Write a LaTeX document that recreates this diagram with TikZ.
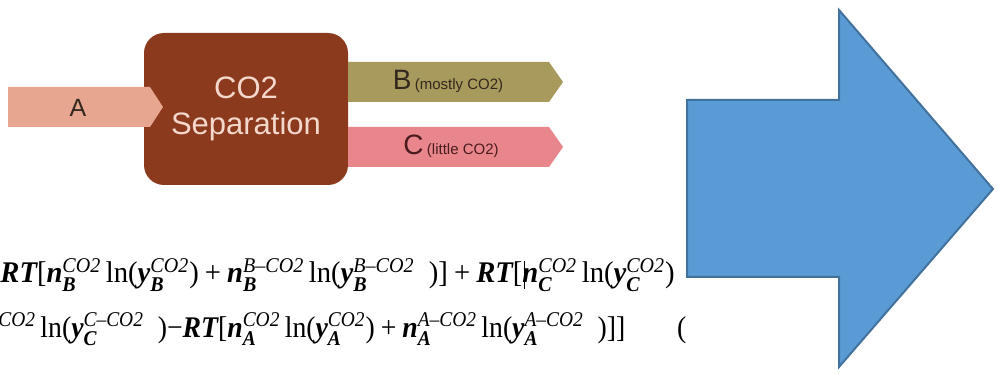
\documentclass[tikz,border=0pt]{standalone}
\usepackage{fontspec}
\usepackage{amsmath}
\usepackage{graphicx}
\setmainfont{Liberation Serif}
\setsansfont{Liberation Sans}
\definecolor{sepbrown}{HTML}{8C3A1E}
\definecolor{septext}{HTML}{F3D8CB}
\definecolor{asalmon}{HTML}{E6A690}
\definecolor{bolive}{HTML}{A8995C}
\definecolor{cpink}{HTML}{E8868C}
\definecolor{labeltext}{HTML}{33281E}
\definecolor{ctext}{HTML}{4A1C1C}
\definecolor{bluefill}{HTML}{5B9BD5}
\definecolor{blueline}{HTML}{41719C}
\newcommand\bv[1]{\text{\bfseries\itshape #1}}
\newcommand\iv[1]{\text{\itshape #1}}
\newcommand\rv[1]{\text{#1}}
\newcommand\pl{\mathbin{\rv{+}}}
\begin{document}
\begin{tikzpicture}[x=0.5pt,y=-0.5pt,
  stream/.style={draw=none},
  lbl/.style={font=\sffamily, text=labeltext, inner sep=0pt},
  eqn/.style={anchor=base west, inner sep=0pt, font=\fontsize{15}{18}\selectfont},
]
\useasboundingbox (0,0) rectangle (998,374);
\begin{scope}
\clip (0,0) rectangle (998,374);
% separation box
\node (sep) [fill=sepbrown, rounded corners=10pt, minimum width=102pt,
  minimum height=76pt, align=center, text=septext,
  font=\sffamily\fontsize{15.5}{18}\selectfont] at (246,109) {CO2\\Separation};
% stream A
\path[stream, fill=asalmon] (8,87) -- (150,87) -- (163,107) -- (150,127) -- (8,127) -- cycle;
\node (la) [lbl, font=\sffamily\fontsize{12.5}{14}\selectfont] at (78,108) {A};
% stream B
\path[stream, fill=bolive] (348,62) -- (549,62) -- (563,82) -- (549,102) -- (348,102) -- cycle;
\node (lb) [lbl, anchor=base] at (448,90) {{\fontsize{14}{15}\selectfont B}\,{\fontsize{7.5}{8}\selectfont (mostly CO2)}};
% stream C
\path[stream, fill=cpink] (348,127) -- (549,127) -- (563,147) -- (549,167) -- (348,167) -- cycle;
\node (lc) [lbl, text=ctext, anchor=base] at (451,155) {{\fontsize{14}{15}\selectfont C}\,{\fontsize{7.5}{8}\selectfont (little CO2)}};
% equations
\node (eq1) [eqn] at (0,283) {\scalebox{0.955}[1]{$\bv{RT}\rv{[}\bv{n}_{\bv{B}}^{\iv{CO2}}\,\rv{ln}\rv{(}\bv{y}_{\bv{B}}^{\iv{CO2}}\rv{)}\pl\bv{n}_{\bv{B}}^{\iv{B--CO2}}\,\rv{ln}\rv{(}\bv{y}_{\bv{B}}^{\iv{B--CO2}}\ \ \rv{)]}\pl\bv{RT}\rv{[}\rlap{\kern0.8pt\vrule height 11pt depth 3pt width 0.6pt}\bv{n}_{\bv{C}}^{\iv{CO2}}\,\rv{ln}\rv{(}\bv{y}_{\bv{C}}^{\iv{CO2}}\rv{)}$}};
\node (eq2) [eqn] at (-2,337) {\scalebox{0.925}[1]{${}^{\iv{CO2}}\,\rv{ln}\rv{(}\bv{y}_{\bv{C}}^{\iv{C--CO2}}\ \ \rv{)}\rv{−}\bv{RT}\rv{[}\bv{n}_{\bv{A}}^{\iv{CO2}}\,\rv{ln}\rv{(}\bv{y}_{\bv{A}}^{\iv{CO2}}\rv{)}\pl\bv{n}_{\bv{A}}^{\iv{A--CO2}}\,\rv{ln}\rv{(}\bv{y}_{\bv{A}}^{\iv{A--CO2}}\ \ \rv{)]]}\hspace{28pt}\rv{(}$}};
% big blue arrow
\draw[draw=blueline, fill=bluefill, line width=1pt, line join=miter]
  (687,100) -- (839,100) -- (839,10) -- (993,189) -- (839,367) -- (839,277) -- (687,277) -- cycle;
\end{scope}
\end{tikzpicture}
\end{document}
